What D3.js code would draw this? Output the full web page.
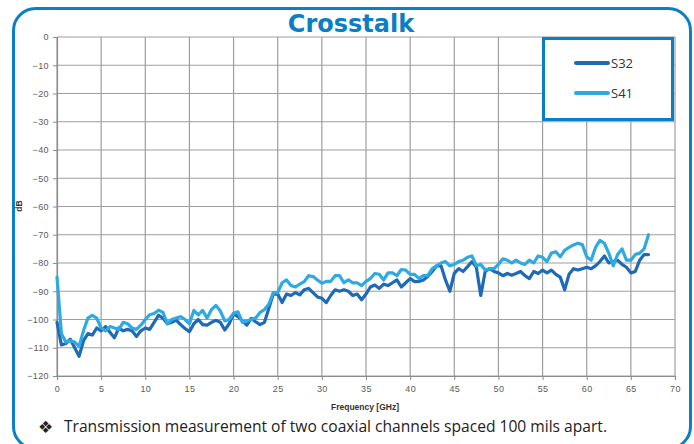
<!DOCTYPE html>
<html>
<head>
<meta charset="utf-8">
<script src="https://cdn.jsdelivr.net/npm/d3@7"></script>
<style>
  body { margin: 0; background: #fff; }
  svg { display: block; }
</style>
</head>
<body>
<div id="chart"></div>
<script>
// ----------- Crosstalk chart: S32 / S41 vs frequency ------------

const width = 694;
const height = 444;
const margin = { top: 37, right: 19, bottom: 68, left: 57 };

// data (dB), one value every 0.5 GHz
const freqs = [
  0, 0.5, 1, 1.5, 2, 2.5, 3, 3.5, 4, 4.5,
  5, 5.5, 6, 6.5, 7, 7.5, 8, 8.5, 9, 9.5,
  10, 10.5, 11, 11.5, 12, 12.5, 13, 13.5, 14, 14.5,
  15, 15.5, 16, 16.5, 17, 17.5, 18, 18.5, 19, 19.5,
  20, 20.5, 21, 21.5, 22, 22.5, 23, 23.5, 24, 24.5,
  25, 25.5, 26, 26.5, 27, 27.5, 28, 28.5, 29, 29.5,
  30, 30.5, 31, 31.5, 32, 32.5, 33, 33.5, 34, 34.5,
  35, 35.5, 36, 36.5, 37, 37.5, 38, 38.5, 39, 39.5,
  40, 40.5, 41, 41.5, 42, 42.5, 43, 43.5, 44, 44.5,
  45, 45.5, 46, 46.5, 47, 47.5, 48, 48.5, 49, 49.5,
  50, 50.5, 51, 51.5, 52, 52.5, 53, 53.5, 54, 54.5,
  55, 55.5, 56, 56.5, 57, 57.5, 58, 58.5, 59, 59.5,
  60, 60.5, 61, 61.5, 62, 62.5, 63, 63.5, 64, 64.5,
  65, 65.5, 66, 66.5, 67
];

const s32 = [
  -101, -109, -108.5, -107, -110, -113, -107.5, -105, -105.5, -103,
  -104, -102.5, -104.5, -106.5, -103, -104, -103.5, -104, -106, -104,
  -103, -103.5, -101, -98.5, -99.5, -101.5, -101, -100.2, -101.8, -103.2,
  -104.3, -101.5, -100, -101.8, -102, -101, -100.3, -101, -103.7, -101.5,
  -98, -99, -100.5, -102, -99.6, -100.8, -101.8, -101, -96, -91,
  -91, -94, -91, -91.5, -90.5, -91.3, -89.5, -89, -90.5, -92,
  -92.5, -94, -91.5, -89.5, -90, -89.5, -90, -91.5, -91, -93,
  -91, -88.5, -87.8, -89, -87.5, -88, -87, -86, -88.5, -87,
  -85.5, -86.6, -86.5, -86, -84.8, -83, -81, -81, -86, -90,
  -83.7, -82, -83, -81.3, -79.5, -81.5, -91.5, -83, -82, -83,
  -83.5, -84.5, -83.7, -84.3, -83.7, -83, -84.5, -85.5, -83, -83.7,
  -82.5, -83.5, -82.5, -84, -85, -89.5, -84, -82, -82.5, -82,
  -81.5, -82, -81, -79.5, -77.5, -80, -79.5, -79, -80.5, -81.5,
  -83.5, -83, -79, -77, -77
];

const s41 = [
  -85, -105, -108, -107.5, -108, -109.5, -104, -99.5, -98.5, -99.5,
  -103, -104, -102.5, -103, -103.5, -101, -101.5, -103, -103.5, -102,
  -100, -98.3, -97.9, -96.7, -97.5, -101.5, -100, -99.5, -99, -100,
  -101.5, -96.8, -98.4, -96.8, -99.5, -96.5, -95, -97, -100.5, -100,
  -97.8, -97.3, -101, -100.5, -100, -99.5, -97.5, -96.5, -94.5, -90.5,
  -90.5, -87, -86, -88, -88.5, -87.5, -86.6, -84.5, -84.8, -86,
  -87.2, -86.5, -86.5, -84.5, -84.5, -87, -86, -87, -87, -88,
  -86.5, -85.5, -83.7, -84, -86, -83.5, -83.5, -84.5, -82.3, -82.5,
  -84, -84, -85.5, -84.5, -84.5, -82, -81, -80, -79.5, -81,
  -80.5, -79.5, -79, -78, -77.5, -81, -80.5, -82.5, -82, -82,
  -80.5, -78.5, -79, -80, -79, -80, -80.5, -79, -80, -77.5,
  -78, -79.5, -76.5, -76, -77.8, -75.5, -74.5, -73.6, -73, -73.5,
  -77.8, -79, -74.5, -72, -73, -76.5, -81, -77, -75, -79,
  -79, -77, -76.5, -75, -70
];

const seriesNames = ["S32", "S41"];
const seriesColors = ["#1f6ab5", "#2fa9e2"];
const xTicks = [0, 5, 10, 15, 20, 25, 30, 35, 40, 45, 50, 55, 60, 65, 70];
const yTicks = [0, -10, -20, -30, -40, -50, -60, -70, -80, -90, -100, -110, -120];

const blue = "#0a7fc4";

const svg = d3.select("#chart")
  .append("svg")
  .attr("width", width)
  .attr("height", height);

const x = d3.scaleLinear().domain([0, 70]).range([margin.left, width - margin.right]);
const y = d3.scaleLinear().domain([-120, 0]).range([height - margin.bottom, margin.top]);

// outer frame
svg.append("rect")
  .attr("x", 13.5).attr("y", 8.5)
  .attr("width", 677).attr("height", 440)
  .attr("rx", 22).attr("ry", 22)
  .attr("fill", "#fff")
  .attr("stroke", blue)
  .attr("stroke-width", 3);

// title
svg.append("text")
  .attr("x", 351).attr("y", 32)
  .attr("text-anchor", "middle")
  .attr("font-family", "DejaVu Sans")
  .attr("font-weight", "bold")
  .attr("font-size", 24)
  .attr("fill", blue)
  .text("Crosstalk");

// grid
const grid = svg.append("g").attr("stroke", "#9e9e9e").attr("stroke-width", 1.2);
grid.selectAll(".vgrid")
  .data(xTicks)
  .join("line")
  .attr("x1", d => x(d)).attr("x2", d => x(d))
  .attr("y1", y(0)).attr("y2", y(-120));
grid.selectAll(".hgrid")
  .data(yTicks)
  .join("line")
  .attr("x1", x(0)).attr("x2", x(70))
  .attr("y1", d => y(d)).attr("y2", d => y(d));

// axes
const yAxis = svg.append("g")
  .attr("transform", `translate(${x(0)},0)`)
  .call(d3.axisLeft(y).tickValues(yTicks).tickSize(4).tickPadding(4).tickFormat(d3.format("d")));
const xAxis = svg.append("g")
  .attr("transform", `translate(0,${y(-120)})`)
  .call(d3.axisBottom(x).tickValues(xTicks).tickSize(4).tickPadding(6));

[yAxis, xAxis].forEach(ax => {
  ax.select(".domain").attr("stroke", "#8c8c8c").attr("stroke-width", 1.2);
  ax.selectAll(".tick line").attr("stroke", "#8c8c8c");
  ax.selectAll(".tick text")
    .attr("fill", "#5a5a5a")
    .attr("font-family", "Liberation Sans")
    .attr("font-size", 9)
    .attr("letter-spacing", 0.4);
});

// axis titles
svg.append("text")
  .attr("x", 365).attr("y", 410)
  .attr("text-anchor", "middle")
  .attr("font-family", "Liberation Sans")
  .attr("font-weight", "bold")
  .attr("font-size", 8.5)
  .attr("fill", "#333")
  .text("Frequency [GHz]");

svg.append("text")
  .attr("transform", "translate(22,206) rotate(-90)")
  .attr("text-anchor", "middle")
  .attr("font-family", "Liberation Sans")
  .attr("font-weight", "bold")
  .attr("font-size", 8.5)
  .attr("fill", "#333")
  .text("dB");

// series lines
const line = d3.line()
  .x((d, i) => x(freqs[i]))
  .y(d => y(d));

[s32, s41].forEach((vals, k) => {
  svg.append("path")
    .datum(vals)
    .attr("d", line)
    .attr("fill", "none")
    .attr("stroke", seriesColors[k])
    .attr("stroke-width", 3.2)
    .attr("stroke-linejoin", "round")
    .attr("stroke-linecap", "round");
});

// legend
const legend = svg.append("g");
legend.append("rect")
  .attr("x", 543.5).attr("y", 38.5)
  .attr("width", 129).attr("height", 81)
  .attr("fill", "#fff")
  .attr("stroke", blue)
  .attr("stroke-width", 3);

seriesNames.forEach((name, k) => {
  const ly = 63 + k * 30;
  legend.append("line")
    .attr("x1", 576).attr("x2", 608)
    .attr("y1", ly).attr("y2", ly)
    .attr("stroke", seriesColors[k])
    .attr("stroke-width", 4)
    .attr("stroke-linecap", "round");
  legend.append("text")
    .attr("x", 611).attr("y", ly + 5)
    .attr("font-family", "Open Sans")
    .attr("font-size", 13)
    .attr("fill", "#333")
    .text(name);
});

// caption
svg.append("text")
  .attr("x", 38).attr("y", 433)
  .attr("font-family", "DejaVu Sans")
  .attr("font-size", 17)
  .attr("fill", "#222")
  .text("\u2756");

svg.append("text")
  .attr("x", 64).attr("y", 432)
  .attr("font-family", "Open Sans")
  .attr("font-size", 16)
  .attr("fill", "#222")
  .attr("textLength", 543)
  .attr("lengthAdjust", "spacingAndGlyphs")
  .text("Transmission measurement of two coaxial channels spaced 100 mils apart.");
</script>
</body>
</html>
